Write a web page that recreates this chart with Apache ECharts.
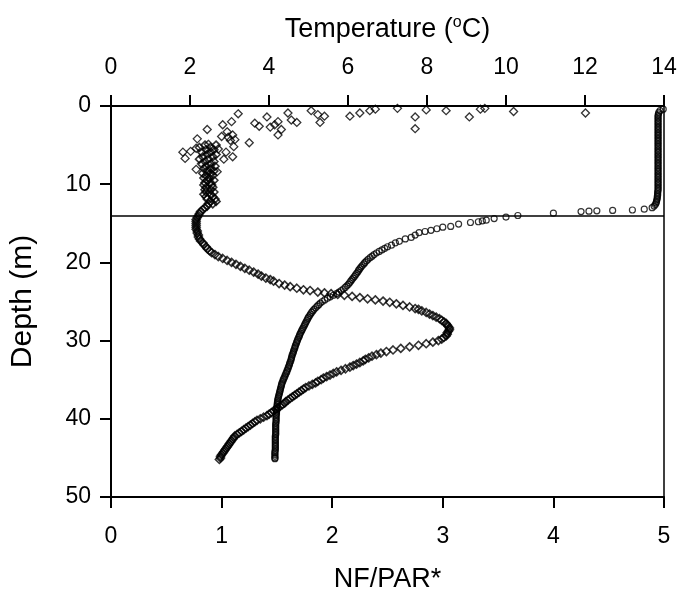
<!DOCTYPE html>
<html>
<head>
<meta charset="utf-8">
<script src="https://cdn.jsdelivr.net/npm/echarts@6/dist/echarts.min.js"></script>
<style>
html,body{margin:0;padding:0;background:#fff;}
#c{width:683px;height:598px;}
</style>
</head>
<body>
<div id="c"></div>
<script>
// ---- data: [value, depth (m)] ----
// NF/PAR* scattered near-surface points
const nfSurface = [
  [1.15,1.0],[1.41,1.4],[1.60,0.9],[1.81,0.6],[1.87,1.1],[1.93,1.3],[1.89,2.1],[1.68,2.1],
  [1.63,1.8],[1.51,2.0],[1.30,2.2],[1.34,2.6],[1.44,2.7],[1.48,2.4],[1.54,3.0],[1.51,3.7],
  [1.09,2.0],[1.01,2.4],[0.87,3.0],[1.05,3.3],[1.10,3.7],[1.12,4.3],[0.78,4.2],[1.25,4.7],
  [1.11,5.2],[0.65,5.9],[0.67,6.7],[0.72,5.8],[0.77,5.4],[0.88,4.9],[0.97,5.5],[1.04,5.9],
  [1.10,6.5],[1.02,6.8],[0.77,8.1],[0.96,8.4],[1.06,4.0],[1.08,4.4],[1.00,3.9],
  [2.16,1.3],[2.25,0.9],[2.34,0.6],[2.39,0.4],[2.59,0.3],[2.75,1.4],[2.75,2.9],[2.85,0.5],
  [3.03,0.6],[3.24,1.4],[3.34,0.4],[3.38,0.3],[3.64,0.7],[4.29,0.9]
];
// NF/PAR* main profile
const nfProfile = [
  [0.85,5.0],[0.95,5.0],[0.80,5.3],[0.90,5.3],[0.86,5.6],[0.93,5.6],[0.82,5.9],[0.90,5.9],
  [0.87,6.2],[0.95,6.2],[0.83,6.5],[0.92,6.5],[0.88,6.8],[0.80,6.8],[0.85,7.1],[0.93,7.1],
  [0.82,7.4],[0.90,7.4],[0.86,7.7],[0.94,7.7],[0.84,8.0],[0.90,8.0],[0.87,8.3],[0.93,8.3],
  [0.83,8.6],[0.90,8.6],[0.86,8.9],[0.92,8.9],[0.84,9.2],[0.89,9.2],[0.87,9.5],[0.93,9.5],
  [0.85,9.8],[0.90,9.8],[0.84,10.1],[0.91,10.1],[0.86,10.4],[0.92,10.4],[0.85,10.7],[0.90,10.7],
  [0.86,11.0],[0.93,11.0],[0.84,11.3],[0.90,11.3],[0.86,11.6],[0.92,11.6],[0.87,11.9],[0.94,11.9],
  [0.90,12.2],[0.95,12.2],[0.92,12.5],[0.88,12.5],[0.87,12.8],[0.85,13.0],[0.83,13.25],[0.81,13.5],
  [0.80,13.75],[0.79,14.0],[0.78,14.25],[0.77,14.5],[0.77,14.75],[0.77,15.0],[0.77,15.25],[0.77,15.5],
  [0.77,15.75],[0.78,16.0],[0.78,16.25],[0.79,16.5],[0.79,16.75],[0.80,17.0],[0.81,17.25],[0.83,17.5],
  [0.84,17.75],[0.86,18.0],[0.87,18.25],[0.89,18.5],[0.91,18.75],[0.94,19.0],[0.97,19.25],[1.01,19.5],
  [1.05,19.75],[1.09,20.0],[1.13,20.25],[1.17,20.5],[1.21,20.75],[1.25,21.0],[1.29,21.25],[1.33,21.5],
  [1.36,21.75],[1.40,22.0],[1.44,22.2],[1.47,22.4],[1.52,22.7],
  [1.57,22.9],[1.62,23.1],[1.68,23.3],[1.74,23.5],[1.80,23.6],[1.87,23.8],[1.93,23.9],[1.99,24.0],
  [2.05,24.1],[2.11,24.2],[2.18,24.35],[2.25,24.5],[2.32,24.65],[2.39,24.8],[2.46,24.95],[2.52,25.1],
  [2.58,25.3],[2.64,25.5],[2.70,25.7],[2.75,25.9],
  [2.78,26.0],[2.81,26.2],[2.85,26.4],[2.88,26.6],[2.91,26.8],[2.94,27.0],[2.97,27.2],[2.99,27.4],
  [3.01,27.6],[3.03,27.8],[3.04,28.0],[3.05,28.2],[3.06,28.4],[3.06,28.6],[3.05,28.8],[3.04,29.0],
  [3.04,29.2],[3.03,29.4],[3.01,29.6],[2.99,29.8],[2.96,30.0],[2.91,30.2],[2.85,30.4],[2.78,30.6],
  [2.70,30.8],[2.62,31.0],[2.55,31.2],[2.49,31.4],[2.44,31.6],[2.40,31.8],[2.36,32.0],[2.33,32.2],
  [2.30,32.4],[2.28,32.6],[2.25,32.8],[2.22,33.0],[2.19,33.2],[2.16,33.4],[2.12,33.6],[2.08,33.8],
  [2.04,34.0],[2.01,34.2],[1.98,34.4],[1.95,34.6],[1.92,34.8],[1.90,35.0],[1.87,35.2],[1.85,35.4],
  [1.82,35.6],[1.79,35.8],[1.76,36.0],[1.74,36.2],[1.72,36.4],[1.70,36.6],[1.68,36.8],[1.66,37.0],
  [1.64,37.2],[1.62,37.4],[1.60,37.6],[1.58,37.8],[1.57,38.0],[1.55,38.2],[1.53,38.4],[1.51,38.6],
  [1.49,38.8],[1.47,39.0],[1.45,39.2],[1.43,39.4],[1.41,39.6],[1.38,39.8],[1.35,40.0],[1.32,40.2],
  [1.30,40.4],[1.28,40.6],[1.26,40.8],[1.24,41.0],[1.22,41.2],[1.20,41.4],[1.18,41.6],[1.16,41.8],
  [1.14,42.0],[1.12,42.2],[1.11,42.4],[1.10,42.6],[1.09,42.8],[1.08,43.0],[1.07,43.2],[1.06,43.4],
  [1.05,43.6],[1.04,43.8],[1.03,44.0],[1.02,44.2],[1.01,44.4],[1.00,44.6],[0.99,44.8],[0.99,45.0],
  [0.98,45.2]
];
// Temperature profile (°C)
const tempProfile = [
  [13.98,0.4],[13.90,0.6],[13.87,0.8],[13.86,1.0],[13.85,1.2],[13.85,1.4],[13.85,1.6],[13.85,1.8],
  [13.85,2.0],[13.85,2.2],[13.85,2.4],[13.85,2.6],[13.85,2.8],[13.85,3.0],[13.85,3.2],[13.85,3.4],
  [13.85,3.6],[13.85,3.8],[13.85,4.0],[13.85,4.2],[13.85,4.4],[13.85,4.6],[13.85,4.8],[13.85,5.0],
  [13.85,5.2],[13.85,5.4],[13.85,5.6],[13.85,5.8],[13.85,6.0],[13.85,6.2],[13.85,6.4],[13.85,6.6],
  [13.85,6.8],[13.85,7.0],[13.85,7.2],[13.85,7.4],[13.85,7.6],[13.85,7.8],[13.85,8.0],[13.85,8.2],
  [13.85,8.4],[13.85,8.6],[13.85,8.8],[13.85,9.0],[13.85,9.2],[13.85,9.4],[13.85,9.6],[13.85,9.8],
  [13.85,10.0],[13.85,10.2],[13.85,10.4],[13.85,10.6],[13.85,10.8],[13.84,11.0],[13.84,11.2],[13.84,11.4],
  [13.83,11.6],[13.83,11.8],[13.82,12.0],[13.81,12.2],[13.80,12.4],[13.78,12.6],[13.75,12.8],[13.70,13.0],
  [13.50,13.2],[13.20,13.3],[12.70,13.35],[12.30,13.4],[12.10,13.45],[11.90,13.5],
  [11.20,13.7],[10.30,14.0],[10.00,14.2],[9.70,14.4],[9.50,14.6],[9.40,14.7],[9.30,14.8],[9.10,14.9],
  [8.80,15.1],[8.60,15.4],[8.40,15.5],[8.25,15.7],[8.10,15.9],[7.95,16.05],[7.80,16.2],[7.70,16.5],
  [7.60,16.8],[7.45,17.0],[7.30,17.3],[7.20,17.5],[7.10,17.8],
  [7.00,18.0],[6.93,18.2],[6.86,18.4],[6.79,18.6],[6.72,18.8],[6.66,19.0],[6.61,19.2],[6.56,19.4],
  [6.51,19.6],[6.47,19.8],[6.43,20.0],[6.40,20.2],[6.36,20.4],[6.33,20.6],[6.30,20.8],[6.27,21.0],
  [6.25,21.2],[6.22,21.4],[6.19,21.6],[6.16,21.8],[6.13,22.0],[6.10,22.2],[6.07,22.4],[6.04,22.6],
  [6.01,22.8],[5.97,23.0],[5.93,23.2],[5.88,23.4],[5.83,23.6],[5.77,23.8],[5.71,24.0],[5.63,24.2],
  [5.55,24.4],[5.48,24.6],[5.41,24.8],[5.35,25.0],[5.30,25.2],[5.26,25.4],[5.22,25.6],[5.18,25.8],
  [5.14,26.0],[5.11,26.2],[5.08,26.4],[5.05,26.6],[5.03,26.8],[5.00,27.0],[4.98,27.2],[4.96,27.4],
  [4.94,27.6],[4.92,27.8],[4.90,28.0],[4.88,28.2],[4.86,28.4],[4.84,28.6],[4.82,28.8],[4.80,29.0],
  [4.78,29.2],[4.77,29.4],[4.75,29.6],[4.73,29.8],[4.72,30.0],[4.70,30.2],[4.69,30.4],[4.67,30.6],
  [4.66,30.8],[4.65,31.0],[4.63,31.2],[4.62,31.4],[4.61,31.6],[4.59,31.8],[4.58,32.0],[4.57,32.2],
  [4.56,32.4],[4.55,32.6],[4.53,32.8],[4.52,33.0],[4.51,33.2],[4.49,33.4],[4.48,33.6],[4.46,33.8],
  [4.45,34.0],[4.43,34.2],[4.41,34.4],[4.40,34.6],[4.38,34.8],[4.36,35.0],[4.35,35.2],[4.33,35.4],
  [4.32,35.6],[4.31,35.8],[4.30,36.0],[4.29,36.2],[4.28,36.4],[4.27,36.6],[4.26,36.8],[4.25,37.0],
  [4.24,37.2],[4.23,37.4],[4.22,37.6],[4.22,37.8],[4.21,38.0],[4.21,38.2],[4.20,38.4],[4.20,38.6],
  [4.20,38.8],[4.19,39.0],[4.19,39.2],[4.19,39.4],[4.18,39.6],[4.18,39.8],[4.18,40.0],[4.18,40.2],
  [4.18,40.4],[4.17,40.6],[4.17,40.8],[4.17,41.0],[4.17,41.2],[4.17,41.4],[4.17,41.6],[4.17,41.8],
  [4.17,42.0],[4.16,42.2],[4.16,42.4],[4.16,42.6],[4.16,42.8],[4.16,43.0],[4.16,43.2],[4.16,43.4],
  [4.16,43.6],[4.16,43.8],[4.16,44.0],[4.15,44.2],[4.15,44.4],[4.15,44.6],[4.15,44.8],[4.15,45.0],
  [4.15,45.1]
];
const thermoclineDepth = 14;
const nfTicks = {min: 0, max: 5, interval: 1};
const tempTicks = {min: 0, max: 14, interval: 2};
const depthTicks = {min: 0, max: 50, interval: 10};

const FONT = 'Liberation Sans';
const TICK_FS = 23, TITLE_FS = 27;
const chart = echarts.init(document.getElementById('c'), null, {renderer: 'canvas'});
const axisCommon = {
  axisLine: {show: true, onZero: false, lineStyle: {color: '#000', width: 2}},
  axisTick: {show: true, inside: false, length: 11, lineStyle: {color: '#000', width: 2}},
  splitLine: {show: false},
  axisLabel: {color: '#000', fontFamily: FONT, fontSize: TICK_FS},
  nameTextStyle: {color: '#000', fontFamily: FONT, fontSize: TITLE_FS}
};
chart.setOption({
  animation: false,
  backgroundColor: '#fff',
  grid: {left: 104, right: 19, top: 106, bottom: 95, show: true, borderColor: '#000', borderWidth: 1.5, backgroundColor: 'transparent'},
  xAxis: [
    Object.assign({}, axisCommon, {
      type: 'value', position: 'bottom', min: nfTicks.min, max: nfTicks.max, interval: nfTicks.interval,
      name: 'NF/PAR*', nameLocation: 'middle', nameGap: 69,
      axisLabel: Object.assign({}, axisCommon.axisLabel, {margin: 28})
    }),
    Object.assign({}, axisCommon, {
      type: 'value', position: 'top', min: tempTicks.min, max: tempTicks.max, interval: tempTicks.interval,
      name: 'Temperature ({sup|o}C)', nameLocation: 'middle', nameGap: 61,
      nameTextStyle: {color: '#000', fontFamily: FONT, fontSize: TITLE_FS, lineHeight: 30,
        rich: {sup: {fontFamily: FONT, fontSize: 16, verticalAlign: 'top', lineHeight: 16}}},
      axisLabel: Object.assign({}, axisCommon.axisLabel, {margin: 27})
    })
  ],
  yAxis: [
    Object.assign({}, axisCommon, {
      type: 'value', inverse: true, min: depthTicks.min, max: depthTicks.max, interval: depthTicks.interval,
      name: 'Depth (m)', nameLocation: 'middle', nameGap: 73, nameRotate: 90,
      nameTextStyle: {color: '#000', fontFamily: FONT, fontSize: 30},
      axisLabel: Object.assign({}, axisCommon.axisLabel, {margin: 20})
    })
  ],
  series: [
    {
      type: 'scatter', xAxisIndex: 0, yAxisIndex: 0, data: nfSurface,
      symbol: 'diamond', symbolSize: 8,
      itemStyle: {color: 'rgba(0,0,0,0)', borderColor: '#000', borderWidth: 1.3}
    },
    {
      type: 'scatter', xAxisIndex: 0, yAxisIndex: 0, data: nfProfile,
      symbol: 'diamond', symbolSize: 8,
      itemStyle: {color: 'rgba(0,0,0,0)', borderColor: '#000', borderWidth: 1.6},
      markLine: {
        silent: true, symbol: ['none', 'none'], label: {show: false},
        lineStyle: {color: '#000', width: 1.5, type: 'solid'},
        data: [{yAxis: thermoclineDepth}]
      }
    },
    {
      type: 'scatter', xAxisIndex: 1, yAxisIndex: 0, data: tempProfile,
      symbol: 'circle', symbolSize: 6,
      itemStyle: {color: 'rgba(0,0,0,0)', borderColor: '#000', borderWidth: 1.2}
    }
  ]
});
</script>
</body>
</html>
